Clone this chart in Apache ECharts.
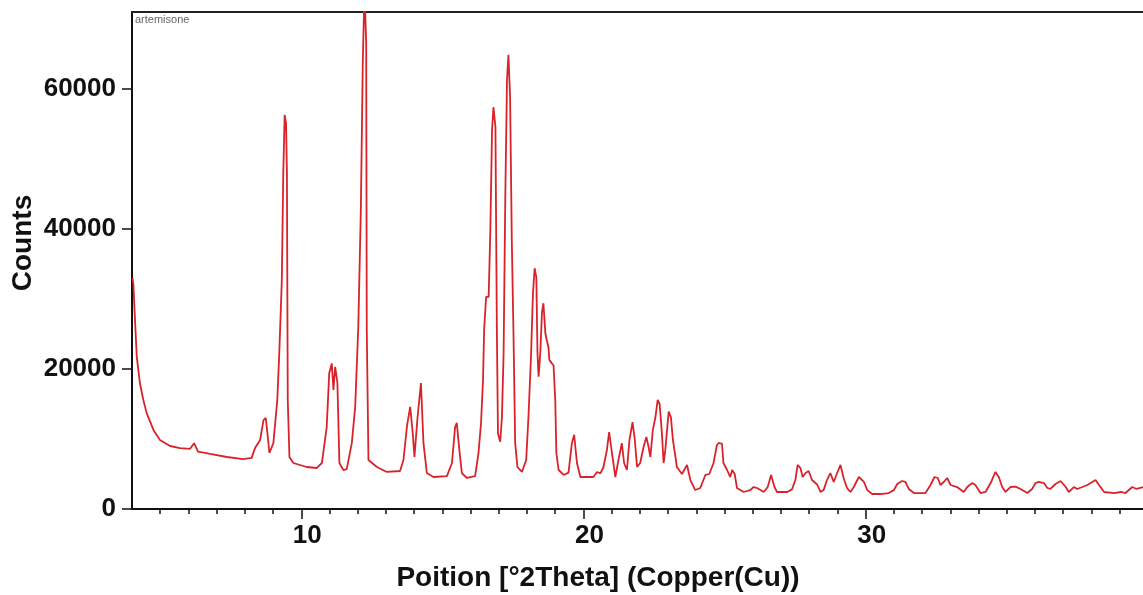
<!DOCTYPE html>
<html>
<head>
<meta charset="utf-8">
<script src="https://cdn.jsdelivr.net/npm/echarts@6/dist/echarts.min.js"></script>
<style>
html,body{margin:0;padding:0;background:#fff;}
#chart{width:1143px;height:595px;}
</style>
</head>
<body>
<div id="chart"></div>
<script>
// Position in degrees 2Theta
const twoTheta = [
 4.02,4.05,4.11,4.17,4.28,4.40,4.52,4.76,4.99,5.35,5.70,6.06,6.20,6.34,6.77,7.36,7.94,8.24,8.36,8.54,
 8.66,8.74,8.80,8.87,9.01,9.15,9.22,9.31,9.36,9.41,9.46,9.49,9.52,9.58,9.72,10.19,10.55,10.73,10.90,10.99,
 11.08,11.14,11.20,11.28,11.35,11.49,11.61,11.79,11.91,12.02,12.11,12.18,12.24,12.30,12.32,12.38,12.68,13.03,13.50,13.62,
 13.75,13.86,13.95,14.01,14.12,14.24,14.33,14.45,14.68,15.16,15.34,15.45,15.51,15.60,15.69,15.87,16.16,16.28,16.37,16.44,
 16.48,16.55,16.64,16.70,16.76,16.81,16.88,16.93,16.97,17.05,17.11,17.17,17.23,17.29,17.34,17.40,17.46,17.52,17.58,17.66,
 17.82,17.97,18.05,18.14,18.21,18.27,18.33,18.37,18.41,18.47,18.53,18.58,18.65,18.70,18.76,18.79,18.88,18.94,19.00,19.04,
 19.12,19.30,19.47,19.59,19.67,19.77,19.89,20.35,20.48,20.60,20.71,20.83,20.91,21.01,21.13,21.24,21.36,21.44,21.54,21.63,
 21.74,21.82,21.90,22.01,22.13,22.23,22.31,22.37,22.46,22.55,22.63,22.70,22.78,22.84,22.90,23.02,23.10,23.17,23.26,23.31,
 23.49,23.67,23.79,23.96,24.14,24.32,24.46,24.61,24.73,24.79,24.91,24.96,25.09,25.20,25.27,25.36,25.44,25.68,25.91,26.03,
 26.15,26.39,26.53,26.65,26.77,26.86,27.22,27.39,27.51,27.59,27.69,27.77,27.87,27.98,28.10,28.28,28.40,28.51,28.63,28.75,
 28.87,28.99,29.11,29.22,29.34,29.46,29.58,29.76,29.94,30.06,30.23,30.52,30.82,31.00,31.12,31.29,31.41,31.53,31.71,32.12,
 32.30,32.44,32.56,32.65,32.77,32.89,33.01,33.24,33.48,33.60,33.78,33.89,34.07,34.25,34.43,34.60,34.72,34.84,34.96,35.13,
 35.31,35.49,35.73,35.90,36.02,36.14,36.32,36.44,36.55,36.73,36.91,37.09,37.20,37.38,37.50,37.68,37.86,38.15,38.27,38.45,
 38.81,39.04,39.21,39.45,39.60,39.85
];
// Counts
const counts = [
 33000,32000,26700,21700,18000,15600,13700,11300,9860,9000,8700,8600,9400,8200,7860,7430,7140,7300,8700,9860,
 12700,13000,10800,8000,9400,15600,22300,32700,47700,56300,55100,48000,15600,7400,6570,6000,5860,6570,11700,19400,
 20800,17000,20300,18000,6570,5570,5700,9400,14600,26000,42700,64100,74000,66600,25600,7000,6000,5290,5430,7000,
 12000,14600,10800,7430,13100,18000,9400,5140,4570,4700,6570,11700,12300,8500,5140,4430,4700,8000,12300,18400,
 25600,30300,30300,39900,54100,57400,54600,26000,10800,9600,13100,22300,44600,61300,64900,58900,38400,25100,9400,6000,
 5290,7000,13100,21700,30800,34400,33100,22300,18900,22300,28100,29400,25100,24100,23100,21300,20800,20500,15600,8000,
 5570,4860,5200,9400,10600,6570,4570,4570,5290,5100,6000,8400,11000,8000,4570,7000,9400,6570,5570,9860,
 12400,9860,6000,6570,8860,10300,8800,7430,11300,13100,15600,15000,10800,6570,8400,13900,13100,9860,7430,6000,
 5000,6290,4140,2710,3000,4860,5000,6570,9140,9430,9300,6570,5570,4570,5570,5000,3000,2430,2700,3140,
 3000,2430,3140,4860,3140,2430,2430,2800,4140,6290,5850,4570,5140,5430,4140,3500,2430,2700,4140,5140,
 3860,5140,6290,4430,3000,2430,3140,4570,3860,2700,2140,2140,2280,2700,3570,4000,3860,2860,2280,2280,
 3430,4570,4430,3430,3860,4430,3430,3140,2430,3140,3710,3430,2280,2430,3710,5290,4570,3140,2430,3140,
 3200,2860,2280,2860,3710,3860,3710,3000,2860,3570,4000,3140,2430,3140,2860,3140,3430,4140,3430,2430,
 2280,2430,2280,3140,2860,3140
];
const xMajorTicks = [10, 20, 30];
const xMinorTicks = [5,6,7,8,9,11,12,13,14,15,16,17,18,19,21,22,23,24,25,26,27,28,29,31,32,33,34,35,36,37,38,39];
const yTicks = [0, 20000, 40000, 60000];
const sampleName = 'artemisone';
const xTitle = 'Poition [°2Theta] (Copper(Cu))';
const yTitle = 'Counts';

const X_MIN = 4, X_MAX = 39.83, Y_MIN = 0, Y_MAX = 71000;
const points = twoTheta.map((x, i) => [x, counts[i]]);
const FONT = '"Liberation Sans", Arial, sans-serif';

const chart = echarts.init(document.getElementById('chart'), null, {renderer: 'canvas'});
chart.setOption({
  animation: false,
  backgroundColor: '#ffffff',
  grid: {left: 132, right: 0, top: 12, bottom: 86, containLabel: false},
  xAxis: [
    {
      type: 'value', min: X_MIN, max: X_MAX, position: 'bottom',
      axisLine: {show: true, onZero: false, lineStyle: {color: '#111', width: 2}},
      axisTick: {show: true, customValues: xMajorTicks, length: 10, lineStyle: {color: '#111', width: 1.5}},
      axisLabel: {show: true, customValues: xMajorTicks, margin: 14, padding: [0, 0, 0, 12],
        formatter: v => String(v),
        fontFamily: FONT, fontWeight: 'bold', fontSize: 26, color: '#111'},
      splitLine: {show: false}
    },
    {
      type: 'value', min: X_MIN, max: X_MAX, position: 'bottom',
      axisLine: {show: false},
      axisTick: {show: true, customValues: xMinorTicks, length: 5, lineStyle: {color: '#111', width: 1.5}},
      axisLabel: {show: false},
      splitLine: {show: false}
    },
    {
      type: 'value', min: X_MIN, max: X_MAX, position: 'top',
      axisLine: {show: true, onZero: false, lineStyle: {color: '#222', width: 2}},
      axisTick: {show: false}, axisLabel: {show: false}, splitLine: {show: false}
    }
  ],
  yAxis: {
    type: 'value', min: Y_MIN, max: Y_MAX,
    axisLine: {show: true, onZero: false, lineStyle: {color: '#111', width: 2}},
    axisTick: {show: true, customValues: yTicks, length: 10, lineStyle: {color: '#111', width: 1.5}},
    axisLabel: {show: true, customValues: yTicks, margin: 16,
      formatter: v => String(v),
      fontFamily: FONT, fontWeight: 'bold', fontSize: 26, color: '#111'},
    splitLine: {show: false}
  },
  graphic: [
    {type: 'text', left: 135, top: 14, style: {text: sampleName, font: '11px ' + FONT, fill: '#666'}},
    {type: 'text', x: 598, y: 578, style: {text: xTitle, font: 'bold 28px ' + FONT, fill: '#111', align: 'center', verticalAlign: 'middle'}},
    {type: 'text', x: 23, y: 243, rotation: Math.PI / 2, style: {text: yTitle, font: 'bold 28px ' + FONT, fill: '#111', align: 'center', verticalAlign: 'middle'}}
  ],
  series: [{
    type: 'line', xAxisIndex: 0, data: points, showSymbol: false, symbol: 'none',
    clip: true, sampling: null,
    lineStyle: {color: '#d8232a', width: 1.8},
    z: 3
  }]
});
</script>
</body>
</html>
